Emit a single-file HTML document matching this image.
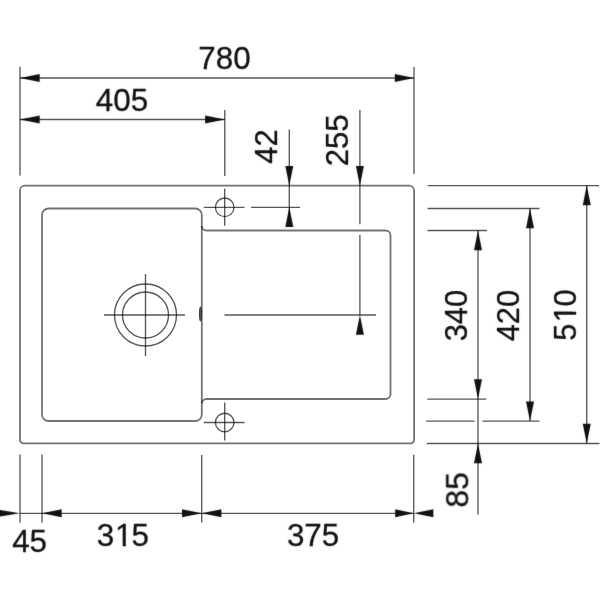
<!DOCTYPE html>
<html><head><meta charset="utf-8"><title>Sink drawing</title>
<style>
html,body{margin:0;padding:0;background:#fff;}
svg{display:block;}
.t text{font-family:"Liberation Sans",sans-serif;font-size:31.4px;fill:#111;stroke:#111;stroke-width:0.3;stroke-linejoin:round;text-anchor:middle;}
.o{fill:none;stroke:#000;stroke-opacity:0.55;stroke-width:1.8;}
.d{fill:none;stroke:#000;stroke-opacity:0.66;stroke-width:1.35;}
.a{fill:#111;stroke:none;}
</style></head><body>
<svg width="600" height="600" viewBox="0 0 600 600">
<rect width="600" height="600" fill="#fff"/>
<defs><clipPath id="c0"><path clip-rule="evenodd" d="M-60,-40H60V20H-60Z M-6.54,-3.4H0.31V1.2H-6.54Z M3.39,-3.4H10.00V1.2H3.39Z"/></clipPath><clipPath id="c1"><path clip-rule="evenodd" d="M-60,-40H60V20H-60Z M-6.94,-3.4H-0.09V1.2H-6.94Z M2.99,-3.4H9.60V1.2H2.99Z"/></clipPath><filter id="s" x="0" y="0" width="600" height="600" filterUnits="userSpaceOnUse" color-interpolation-filters="sRGB"><feConvolveMatrix order="3" kernelMatrix="0.0100 0.0800 0.0100 0.0800 0.6400 0.0800 0.0100 0.0800 0.0100"/></filter></defs>
<g class="o">
<path d="M25,185.6 H409.1 A5,5 0 0 1 414.1,190.6 V439.95 A3.5,3.5 0 0 1 410.6,443.45 H23.5 A3.5,3.5 0 0 1 20,439.95 V190.6 A5,5 0 0 1 25,185.6 Z"/>
<path d="M48.5,208.5 H195.3 A6.5,6.5 0 0 1 201.8,215.0 V414.5 A6.5,6.5 0 0 1 195.3,421.0 H48.5 A6.5,6.5 0 0 1 42,414.5 V215.0 A6.5,6.5 0 0 1 48.5,208.5 Z"/>
<path d="M201.8,226.0 A4.5,4.5 0 0 0 206.3,230.5 H385.5 A5,5 0 0 1 390.5,235.5 V394.0 A5,5 0 0 1 385.5,399.0 H206.3 A4.5,4.5 0 0 0 201.8,403.5"/>
</g>
<g class="d">
<circle cx="145.5" cy="315" r="31"/>
<circle cx="145.5" cy="315" r="23"/>
<line x1="104.0" y1="315" x2="185.0" y2="315"/>
<line x1="145.5" y1="274" x2="145.5" y2="356"/>
<ellipse cx="200.4" cy="314.0" rx="0.9" ry="6.8" fill="#000" fill-opacity="0.5" stroke-width="1.2"/>
<circle cx="224.7" cy="207.3" r="9.3"/>
<line x1="203.8" y1="207.3" x2="244.5" y2="207.3"/>
<line x1="224.7" y1="188.8" x2="224.7" y2="225.7"/>
<circle cx="224.7" cy="422.5" r="9.3"/>
<line x1="203.8" y1="422.5" x2="244.5" y2="422.5"/>
<line x1="224.7" y1="402.5" x2="224.7" y2="440.5"/>
<line x1="251" y1="207.3" x2="300" y2="207.3"/>
<line x1="224.5" y1="315" x2="376" y2="315"/>
<line x1="20" y1="66.7" x2="20" y2="175.5"/>
<line x1="414" y1="67" x2="414" y2="174"/>
<line x1="224.8" y1="110" x2="224.8" y2="176"/>
<line x1="20" y1="78" x2="414" y2="78"/>
<line x1="20" y1="119.5" x2="225" y2="119.5"/>
<line x1="289.3" y1="129.5" x2="289.3" y2="226"/>
<line x1="359.9" y1="110" x2="359.9" y2="224.3"/>
<line x1="359.9" y1="235" x2="359.9" y2="315"/>
<line x1="427.6" y1="185.6" x2="599" y2="185.6"/>
<line x1="427.6" y1="208.5" x2="539.5" y2="208.5"/>
<line x1="427.6" y1="230.5" x2="487" y2="230.5"/>
<line x1="427.3" y1="399.05" x2="486.2" y2="399.05"/>
<line x1="426.2" y1="421.1" x2="474.6" y2="421.1"/>
<line x1="482.5" y1="421.1" x2="539.5" y2="421.1"/>
<line x1="426.8" y1="443.45" x2="599.5" y2="443.45"/>
<line x1="478.0" y1="230.5" x2="478.0" y2="514.5"/>
<line x1="530" y1="208.5" x2="530" y2="421.1"/>
<line x1="586.75" y1="185.6" x2="586.75" y2="443.5"/>
<line x1="20" y1="454.5" x2="20" y2="522.7"/>
<line x1="42" y1="454.5" x2="42" y2="522.7"/>
<line x1="201.7" y1="455" x2="201.7" y2="522.5"/>
<line x1="413.7" y1="454.7" x2="413.7" y2="522.7"/>
<line x1="20" y1="513.3" x2="413.7" y2="513.3"/>
</g>
<g class="a" filter="url(#s)">
<polygon points="20,78 39.7,74 39.7,82"/>
<polygon points="414,78 394.8,74 394.8,82"/>
<polygon points="20,119.5 39.7,115.5 39.7,123.5"/>
<polygon points="224.8,119.5 205.10000000000002,115.5 205.10000000000002,123.5"/>
<polygon points="289.3,185.6 285.3,165.9 293.3,165.9"/>
<polygon points="289.3,207.3 285.3,227.0 293.3,227.0"/>
<polygon points="359.9,185.6 355.9,165.9 363.9,165.9"/>
<polygon points="359.9,315 355.9,334.7 363.9,334.7"/>
<polygon points="478.0,230.5 474.0,250.2 482.0,250.2"/>
<polygon points="478.0,399 474.0,379.3 482.0,379.3"/>
<polygon points="478.0,443.5 474.0,463.2 482.0,463.2"/>
<polygon points="530,208.5 526,228.2 534,228.2"/>
<polygon points="530,421.1 526,401.40000000000003 534,401.40000000000003"/>
<polygon points="586.75,185.6 582.75,205.29999999999998 590.75,205.29999999999998"/>
<polygon points="586.75,443.5 582.75,423.8 590.75,423.8"/>
<polygon points="20,513.3 -4.5,509.29999999999995 -4.5,517.3"/>
<polygon points="42,513.3 61.7,509.29999999999995 61.7,517.3"/>
<polygon points="201.7,513.3 182.0,509.29999999999995 182.0,517.3"/>
<polygon points="201.7,513.3 221.39999999999998,509.29999999999995 221.39999999999998,517.3"/>
<polygon points="413.7,513.3 395.2,509.29999999999995 395.2,517.3"/>
<polygon points="413.7,513.3 433.4,509.29999999999995 433.4,517.3"/>
</g>
<g class="t" filter="url(#s)">
<text transform="translate(224.4 69.3)">780</text>
<text transform="translate(122 110.5)">405</text>
<text transform="translate(276.5 146.6) rotate(-90) scale(0.98 1)">42</text>
<text transform="translate(348.3 140.4) rotate(-90) scale(0.99 1)">255</text>
<text transform="translate(466.7 315.6) rotate(-90) scale(0.98 1)">340</text>
<text transform="translate(519.25 315.6) rotate(-90) scale(0.98 1)">420</text>
<text transform="translate(576.3 315.0) rotate(-90) scale(0.98 1)" dx="0 1.3 -1.3" clip-path="url(#c0)">510</text>
<text transform="translate(467.8 489.8) rotate(-90) scale(1.02 1.02)">85</text>
<text transform="translate(29.6 552.15)">45</text>
<text transform="translate(122.85 546.3)" dx="0 0.9 -0.9" clip-path="url(#c1)">315</text>
<text transform="translate(313.1 546.2)">375</text>
</g>
</svg>
</body></html>
